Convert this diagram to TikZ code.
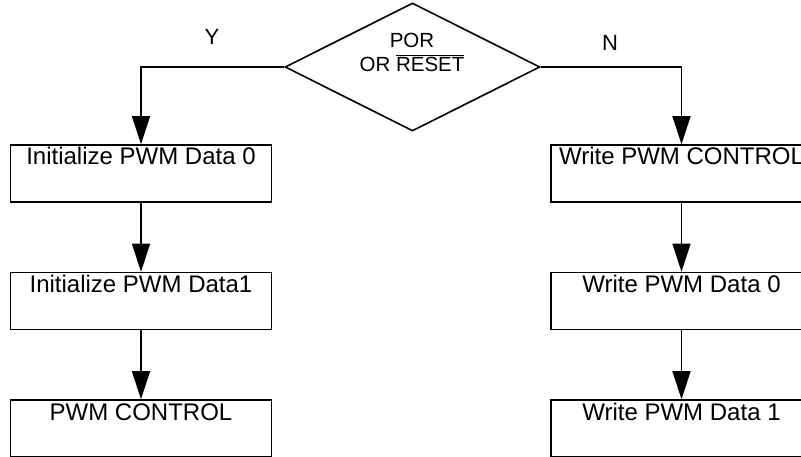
\documentclass[tikz,border=0pt]{standalone}
\usepackage{fontspec}
\setmainfont{Liberation Sans}
\usepackage{tikz}
\usetikzlibrary{arrows.meta,shapes.geometric}

\begin{document}
\begin{tikzpicture}[x=1pt,y=-1pt]
\tikzset{block/.style = {shape=rectangle,draw,line width=1.6pt,minimum width=261pt,minimum height=57pt,inner ysep=0pt,text height=20pt,text depth=37pt,font=\fontsize{24}{28}\selectfont}}
\tikzset{decision/.style = {shape=diamond,draw,line width=1.6pt,minimum width=255pt,minimum height=128pt,inner sep=0pt}}
\tikzset{flow/.style = {line width=1.6pt,-{Triangle[length=28pt,width=18pt]}}}
\tikzset{branch/.style = {font=\fontsize{22}{26}\selectfont}}
\useasboundingbox (0,0) rectangle (801,457);

\node[decision] (por) at (412.5,67) {};
\node[align=center,inner sep=0pt,font=\fontsize{20.5}{24}\selectfont] (porlbl) at (412,52) {POR\\OR $\overline{\mbox{RESET}}$};
\node[branch] (yes) at (212,37) {Y};
\node[branch] (no) at (610,43) {N};

\node[block] (init0) at (141,173.5) {Initialize PWM Data 0};
\node[block] (init1) at (141,301) {Initialize PWM Data1};
\node[block] (ictl)  at (141,428.5) {PWM CONTROL};
\node[block] (wctl)  at (681.5,173.5) {Write PWM CONTROL};
\node[block] (wr0)   at (681.5,301) {Write PWM Data 0};
\node[block] (wr1)   at (681.5,428.5) {Write PWM Data 1};

%edges
\draw[flow] (por.west) -| (init0.north);
\draw[flow] (por.east) -| (wctl.north);
\draw[flow] (init0) to (init1);
\draw[flow] (init1) to (ictl);
\draw[flow] (wctl) to (wr0);
\draw[flow] (wr0) to (wr1);
\end{tikzpicture}
\end{document}
